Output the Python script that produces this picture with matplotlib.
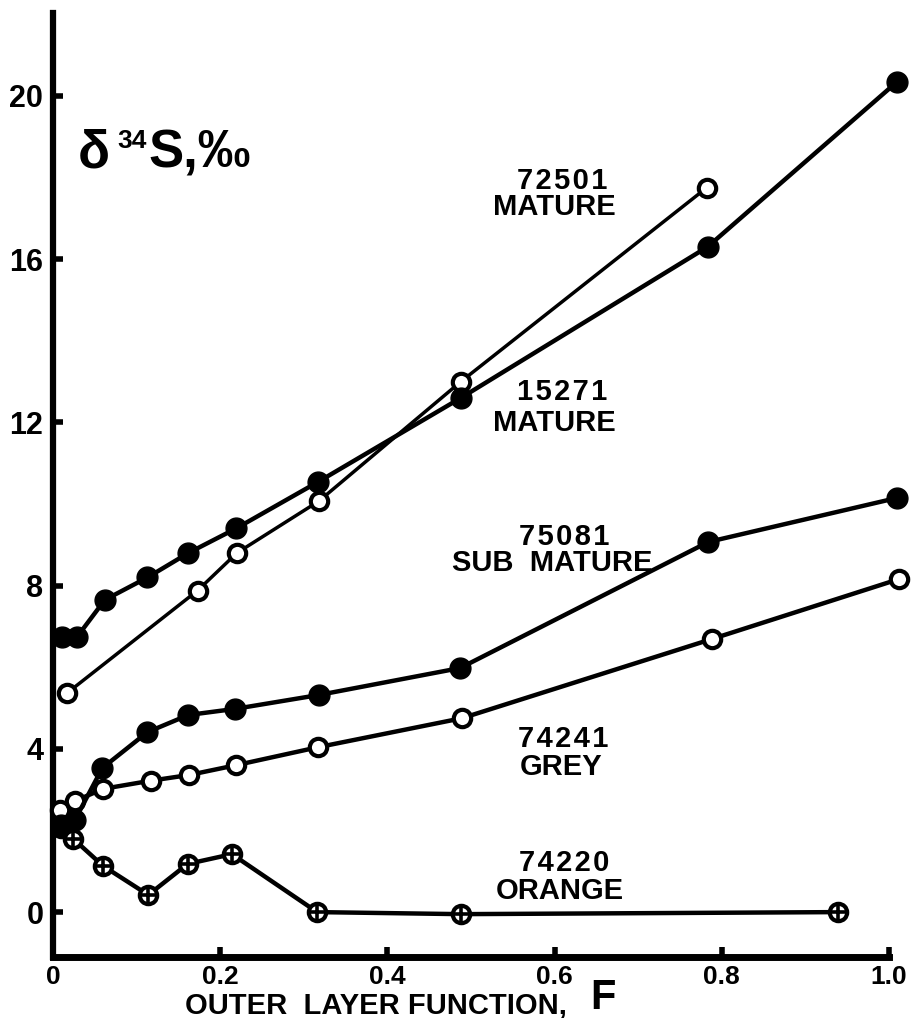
import matplotlib
matplotlib.use('Agg')
import matplotlib.pyplot as plt

plt.rcParams['font.family'] = ['Liberation Sans', 'DejaVu Sans']
plt.rcParams['font.weight'] = 'bold'

# 15271 mature (filled circles)
x_15271 = [0.011, 0.029, 0.062, 0.113, 0.162, 0.219, 0.317, 0.488, 0.783, 1.01]
y_15271 = [6.75, 6.75, 7.65, 8.2, 8.8, 9.4, 10.54, 12.6, 16.3, 20.35]

# 72501 mature (open circles)
x_72501 = [0.017, 0.173, 0.22, 0.318, 0.488, 0.782]
y_72501 = [5.37, 7.88, 8.8, 10.07, 13.0, 17.75]

# 75081 sub mature (filled circles)
x_75081 = [0.01, 0.026, 0.059, 0.113, 0.162, 0.218, 0.318, 0.487, 0.784, 1.01]
y_75081 = [2.13, 2.25, 3.53, 4.41, 4.83, 4.98, 5.32, 5.98, 9.07, 10.15]

# 74241 grey (open circles)
x_74241 = [0.008, 0.026, 0.06, 0.117, 0.163, 0.219, 0.317, 0.489, 0.788, 1.012]
y_74241 = [2.5, 2.72, 3.02, 3.22, 3.36, 3.6, 4.04, 4.75, 6.69, 8.16]

# 74220 orange (crossed circles)
x_74220 = [0.01, 0.024, 0.06, 0.114, 0.161, 0.214, 0.316, 0.488, 0.939]
y_74220 = [2.05, 1.8, 1.13, 0.42, 1.18, 1.42, 0.0, -0.05, 0.0]

y_ticks = [0, 4, 8, 12, 16, 20]
x_ticks = [0, 0.2, 0.4, 0.6, 0.8, 1.0]
x_tick_labels = ['0', '0.2', '0.4', '0.6', '0.8', '1.0']

W, H = 913, 1018
fig = plt.figure(figsize=(W / 100, H / 100), dpi=100)
ax = fig.add_axes([53 / W, 61 / H, 836 / W, 944 / H])
ax.set_xlim(0, 1.0)
ax.set_ylim(-1.1, 22.03)

lw = 3.2
# open circle marker style
open_kw = dict(marker='o', markersize=12.5, markerfacecolor='white',
               markeredgecolor='black', markeredgewidth=3, clip_on=False)
filled_kw = dict(marker='o', markersize=15, markerfacecolor='black',
                 markeredgecolor='black', clip_on=False)

ax.plot(x_72501, y_72501, color='black', lw=2.5, zorder=3, **open_kw)
ax.plot(x_15271, y_15271, color='black', lw=lw, zorder=4, **filled_kw)
ax.plot(x_74241, y_74241, color='black', lw=lw, zorder=3, **open_kw)
ax.plot(x_75081, y_75081, color='black', lw=lw, zorder=4, **filled_kw)
ax.plot(x_74220, y_74220, color='black', lw=lw, zorder=3, **open_kw)
# kereszt a 74220 korokbe
ax.plot(x_74220, y_74220, linestyle='none', marker='+', markersize=12.5,
        markeredgewidth=2.6, color='black', zorder=5, clip_on=False)

# sorozat feliratok (hair space a szamjegyek kozott)
hs = '\u200a'
lab = dict(ha='center', va='center', fontsize=21, fontweight='bold')
ax.text(0.609, 17.91, hs.join('72501'), **lab)
ax.text(0.600, 17.27, 'MATURE', **lab)
ax.text(0.609, 12.74, hs.join('15271'), **lab)
ax.text(0.600, 11.98, 'MATURE', **lab)
ax.text(0.611, 9.19, hs.join('75081'), **lab)
ax.text(0.597, 8.55, 'SUB  MATURE', **lab)
ax.text(0.610, 4.24, hs.join('74241'), **lab)
ax.text(0.608, 3.55, 'GREY', **lab)
ax.text(0.612, 1.20, hs.join('74220'), **lab)
ax.text(0.606, 0.51, 'ORANGE', **lab)

# tengelyek
for s in ['top', 'right']:
    ax.spines[s].set_visible(False)
ax.spines['left'].set_linewidth(4.5)
ax.spines['bottom'].set_linewidth(5)
ax.spines['left'].set_capstyle('projecting')

ax.set_yticks(y_ticks)
ax.set_yticklabels([str(v) for v in y_ticks])
ax.set_xticks(x_ticks)
ax.set_xticklabels(x_tick_labels)
ax.tick_params(axis='y', direction='in', length=7, width=4, labelsize=22, pad=7)
ax.tick_params(axis='x', direction='in', length=7, width=4, labelsize=19, pad=6)
for t in ax.get_xticklabels() + ax.get_yticklabels():
    t.set_fontweight('bold')

# y tengely felirat
fig.text(78 / W, 1 - 168 / H, '\u03b4', fontsize=38, fontweight='bold', va='baseline')
fig.text(117 / W, 1 - 148 / H, '34', fontsize=19, fontweight='bold', va='baseline')
fig.text(148 / W, 1 - 168 / H, 'S,\u2030', fontsize=38, fontweight='bold', va='baseline')

# x tengely felirat
fig.text(185 / W, 1 - 1013 / H, 'OUTER  LAYER FUNCTION,', fontsize=21,
         fontweight='bold', va='baseline', ha='left')
fig.text(590 / W, 1 - 1009 / H, 'F', fontsize=30, fontweight='bold',
         va='baseline', ha='left')

fig.savefig('out.png', dpi=100)
